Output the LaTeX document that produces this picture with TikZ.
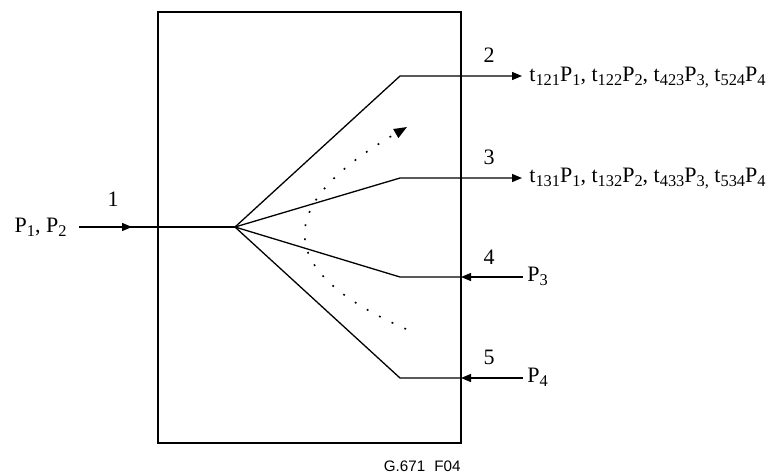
\documentclass[tikz,border=0pt]{standalone}
\usepackage{fontspec}
\setmainfont{Liberation Serif}
\setsansfont{Liberation Sans}
\usetikzlibrary{arrows.meta}

\newcommand{\ind}[1]{\raisebox{-0.45ex}{\fontsize{8.2}{9}\selectfont #1}}

\begin{document}
\begin{tikzpicture}[x=0.5pt,y=-0.5pt,
        trait/.style={line width=0.65pt},
        fleche/.style={trait, -{Triangle[length=5pt,width=4pt]}},
        texte/.style={inner sep=0pt, font=\fontsize{11}{12}\selectfont},
        numero/.style={inner sep=0pt, font=\fontsize{11}{12}\selectfont}]
        \useasboundingbox (0,0) rectangle (770,473);

        % Boite
        \coordinate (NO) at (158,12);
        \coordinate (SE) at (461,443);
        \draw[line width=0.6pt] (NO) rectangle (SE);

        % Points de la structure
        \coordinate (E) at (79,227);
        \coordinate (E1) at (132,227);
        \coordinate (H) at (235,227);
        \coordinate (C2) at (400,76);
        \coordinate (S2) at (522,76);
        \coordinate (C3) at (400,178);
        \coordinate (S3) at (522,178);
        \coordinate (C4) at (400,277);
        \coordinate (B4) at (461,277);
        \coordinate (A4) at (523,277);
        \coordinate (C5) at (400,378);
        \coordinate (B5) at (461,378);
        \coordinate (A5) at (523,378);

        % Entree 1
        \draw[trait] (E) -- (H);
        \draw[fleche] (E) -- (E1);

        % Branches
        \draw[fleche] (H) -- (C2) -- (S2);
        \draw[fleche] (H) -- (C3) -- (S3);
        \draw[trait] (H) -- (C4) -- (B4);
        \draw[trait] (H) -- (C5) -- (B5);
        \draw[fleche] (A4) -- (B4);
        \draw[fleche] (A5) -- (B5);

        % Fleche de sens en pointilles
        \coordinate (D1) at (406,329);
        \coordinate (D2) at (269,269);
        \coordinate (D3) at (276,203);
        \coordinate (D4) at (407,127);
        \draw[line width=0.8pt, dash pattern=on 0.9pt off 6.1pt, -{Triangle[length=6.5pt,width=5pt]}]
            (D1) .. controls (D2) and (D3) .. (D4);

        % Numeros des ports
        \node[numero] (n1) at (113,199) {1};
        \node[numero] (n2) at (489,55) {2};
        \node[numero] (n3) at (489,157) {3};
        \node[numero] (n4) at (489,257) {4};
        \node[numero] (n5) at (489,357) {5};

        % Signaux
        \node[texte, anchor=base east] (p12) at (67,232) {P\ind{1}, P\ind{2}};
        \node[texte, anchor=base west] (t2) at (529,81)
            {t\ind{121}P\ind{1}, t\ind{122}P\ind{2}, t\ind{423}P\ind{3,} t\ind{524}P\ind{4}};
        \node[texte, anchor=base west] (t3) at (529,182)
            {t\ind{131}P\ind{1}, t\ind{132}P\ind{2}, t\ind{433}P\ind{3,} t\ind{534}P\ind{4}};
        \node[texte, anchor=base west] (p3) at (527,281) {P\ind{3}};
        \node[texte, anchor=base west] (p4) at (527,382) {P\ind{4}};

        % Reference
        \node[inner sep=0pt, anchor=base east, font=\sffamily\fontsize{7.6}{8}\selectfont] (ref)
            at (461,471) {G.671\hspace{0.6em}F04};
\end{tikzpicture}
\end{document}
